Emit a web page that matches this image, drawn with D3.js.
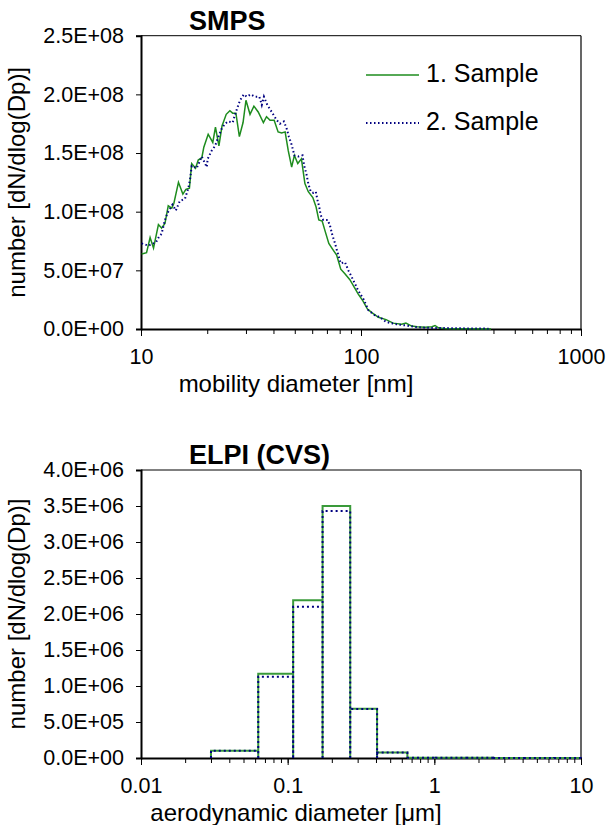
<!DOCTYPE html>
<html>
<head>
<meta charset="utf-8">
<script src="https://cdn.jsdelivr.net/npm/d3@7"></script>
<style>
  body { margin: 0; background: #fff; }
  svg { display: block; font-family: "Liberation Sans", Arial, sans-serif; }
</style>
</head>
<body>
<svg id="chart" width="606" height="825"></svg>
<script>
// SMPS, sample 1 (diameter nm / dN/dlogDp in 1e8)
var smpsD1 = [10.07, 10.6, 11.0, 11.4, 12.0, 12.4, 12.85, 13.3, 13.8, 14.1, 14.8, 15.5, 16.0, 16.6, 17.0, 17.7, 18.2, 18.9, 19.3, 20.2,
  21.2, 21.8, 22.6, 23.35, 24.4, 25.35, 26.1, 27.0, 28.0, 29.1, 30.0, 31.3, 32.6, 34.1, 36.0, 37.2, 38.6, 40.3, 42.0, 43.6,
  45.2, 46.7, 48.4, 49.8, 51.6, 53.6, 55.6, 57.6, 60.4, 62.5, 64.3, 66.6, 68.8, 71.4, 74.9, 77.5, 80.9, 84.5, 89.0, 93,
  97, 102, 107, 112, 120, 130, 140, 153, 160, 170, 180, 195, 210, 217, 225, 238, 260, 300, 390];
var smpsN1 = [0.64, 0.65, 0.78, 0.69, 0.89, 0.86, 0.90, 1.05, 1.03, 1.07, 1.25, 1.15, 1.19, 1.20, 1.41, 1.37, 1.44, 1.46, 1.55, 1.66,
  1.59, 1.72, 1.56, 1.73, 1.83, 1.86, 1.84, 1.84, 1.64, 1.76, 1.95, 1.83, 1.90, 1.85, 1.76, 1.81, 1.78, 1.78, 1.68, 1.67,
  1.68, 1.52, 1.38, 1.48, 1.41, 1.45, 1.24, 1.17, 1.12, 1.04, 0.93, 0.92, 0.83, 0.73, 0.67, 0.63, 0.51, 0.47, 0.42, 0.36,
  0.30, 0.24, 0.17, 0.14, 0.10, 0.08, 0.05, 0.04, 0.05, 0.025, 0.02, 0.015, 0.02, 0.03, 0.01, 0.005, 0.003, 0.002, 0.001];
// SMPS, sample 2
var smpsD2 = [10.07, 10.8, 11.4, 11.7, 12.1, 12.4, 12.85, 13.2, 13.9, 14.4, 15.0, 15.85, 16.4, 16.7, 17.0, 17.9, 18.9, 19.9, 20.1, 20.95,
  21.7, 22.6, 23.3, 24.1, 24.9, 26.1, 27.0, 28.2, 29.35, 30.2, 31.5, 32.95, 34.5, 35.4, 36.2, 37.5, 39.3, 41.4, 42.8, 44.6,
  45.9, 47.0, 48.4, 49.8, 51.8, 54.2, 55.2, 56.5, 57.6, 59.1, 60.7, 62.3, 63.4, 64.6, 65.6, 67.4, 70.6, 72.3, 74.1, 76.2,
  78.0, 80.9, 84.5, 87.6, 92, 97, 103, 108, 115, 122, 130, 145, 160, 180, 200, 240, 300, 380];
var smpsN2 = [0.73, 0.71, 0.73, 0.74, 0.79, 0.81, 0.93, 0.99, 1.06, 1.01, 1.09, 1.11, 1.20, 1.27, 1.39, 1.37, 1.47, 1.38, 1.45, 1.52,
  1.56, 1.65, 1.71, 1.75, 1.77, 1.76, 1.85, 1.95, 2.00, 1.98, 2.00, 1.98, 1.98, 1.91, 1.98, 1.91, 1.85, 1.78, 1.75, 1.77,
  1.71, 1.64, 1.57, 1.48, 1.47, 1.48, 1.39, 1.32, 1.24, 1.17, 1.16, 1.17, 1.10, 1.04, 0.97, 0.93, 0.93, 0.88, 0.80, 0.73,
  0.66, 0.56, 0.57, 0.50, 0.42, 0.33, 0.25, 0.16, 0.12, 0.10, 0.06, 0.04, 0.03, 0.015, 0.01, 0.008, 0.005, 0.003];
var smpsUnit = 1e8;

// ELPI stage boundaries (um) and dN/dlogDp per stage
var elpiEdges = [0.03, 0.063, 0.109, 0.173, 0.267, 0.407, 0.655, 1.021, 1.655, 2.52, 4.085, 6.56, 9.99];
var elpiN1 = [1.0e5, 1.17e6, 2.19e6, 3.50e6, 6.85e5, 7.5e4, 5e3, 3e3, 2e3, 1.5e3, 1e3, 1e3];
var elpiN2 = [1.0e5, 1.13e6, 2.10e6, 3.43e6, 6.80e5, 7.5e4, 5e3, 3e3, 2e3, 1.5e3, 1e3, 1e3];

var yTicksTop = [0, 5e7, 1e8, 1.5e8, 2e8, 2.5e8];
var yTicksBottom = [0, 5e5, 1e6, 1.5e6, 2e6, 2.5e6, 3e6, 3.5e6, 4e6];
var seriesNames = ["1. Sample", "2. Sample"];

var green = "#1e8c1e", navy = "#000080";
var fs = 21.5;   // tick labels
var fsTitle = 24; // axis titles

function sci(d) {
  if (d === 0) return "0.0E+00";
  var e = Math.floor(Math.log10(d) + 1e-9);
  var m = d / Math.pow(10, e);
  return m.toFixed(1) + "E+" + (e < 10 ? "0" : "") + e;
}

var svg = d3.select("#chart");

function minorTicks(lo, hi) {
  var out = [];
  for (var p = lo; p < hi; p *= 10)
    for (var k = 1; k < 10; k++) out.push(p * k);
  out.push(hi);
  return out;
}

function panel(top, bottom, xDomain, yMax, yTicks, title, xLabel, xFmt) {
  var left = 141, right = 581;
  var x = d3.scaleLog().domain(xDomain).range([left, right]);
  var y = d3.scaleLinear().domain([0, yMax]).range([bottom, top]);

  // plot box (thin top/right)
  svg.append("line").attr("x1", left).attr("x2", right).attr("y1", top).attr("y2", top)
    .attr("stroke", "#000").attr("stroke-width", 1);
  svg.append("line").attr("x1", right).attr("x2", right).attr("y1", top).attr("y2", bottom)
    .attr("stroke", "#000").attr("stroke-width", 1.2);

  // y axis
  var ya = svg.append("g").attr("transform", "translate(" + left + ",0)")
    .call(d3.axisLeft(y).tickValues(yTicks).tickFormat(sci).tickSize(5).tickPadding(12));
  ya.select(".domain").attr("stroke-width", 2);
  ya.selectAll("text").attr("font-size", fs).attr("font-family", null).attr("fill", "#000");

  // x axis: minor ticks, then labelled majors
  var xa = svg.append("g").attr("transform", "translate(0," + bottom + ")")
    .call(d3.axisBottom(x).tickValues(minorTicks(xDomain[0], xDomain[1])).tickFormat("").tickSize(5).tickSizeOuter(0));
  xa.select(".domain").attr("stroke-width", 2);
  var majors = d3.range(0, 4).map(function(i) { return xDomain[0] * Math.pow(10, i); })
    .filter(function(v) { return v <= xDomain[1] * 1.0001; });
  var xm = svg.append("g").attr("transform", "translate(0," + bottom + ")")
    .call(d3.axisBottom(x).tickValues(majors).tickFormat(xFmt).tickSize(7).tickPadding(13));
  xm.select(".domain").remove();
  xm.selectAll("text").attr("font-size", fs).attr("font-family", null).attr("fill", "#000");

  svg.append("text").attr("x", 189).attr("y", top - 6)
    .attr("font-size", 27).attr("font-weight", "bold").text(title);

  svg.append("text").attr("x", 296).attr("y", bottom + 63)
    .attr("text-anchor", "middle").attr("font-size", fsTitle).html(xLabel);

  svg.append("text")
    .attr("transform", "translate(19," + (top + bottom) / 2 + ") rotate(-90)")
    .attr("text-anchor", "middle").attr("dominant-baseline", "middle")
    .attr("font-size", fsTitle).text("number [dN/dlog(Dp)]");

  return {x: x, y: y};
}

// ---- SMPS panel ----
var p1 = panel(35.7, 329, [10, 1000], 2.5e8, yTicksTop, "SMPS", "mobility diameter [nm]", d3.format("d"));

var line1 = d3.line().x(function(d) { return p1.x(d[0]); }).y(function(d) { return p1.y(d[1] * smpsUnit); });
svg.append("path").datum(d3.zip(smpsD1, smpsN1)).attr("d", line1)
  .attr("fill", "none").attr("stroke", green).attr("stroke-width", 1.5);
svg.append("path").datum(d3.zip(smpsD2, smpsN2)).attr("d", line1)
  .attr("fill", "none").attr("stroke", navy).attr("stroke-width", 2).attr("stroke-dasharray", "1.5,2.5");

// legend
var leg = svg.append("g");
seriesNames.forEach(function(name, i) {
  var ly = 75 + i * 48;
  leg.append("line").attr("x1", 366).attr("x2", 419).attr("y1", ly).attr("y2", ly)
    .attr("stroke", i ? navy : green).attr("stroke-width", i ? 2 : 1.5)
    .attr("stroke-dasharray", i ? "1.5,2.5" : null);
  leg.append("text").attr("x", 426).attr("y", ly).attr("dominant-baseline", "middle")
    .attr("font-size", 25).text(name);
});

// ---- ELPI panel ----
var p2 = panel(470, 758, [0.01, 10], 4e6, yTicksBottom, "ELPI (CVS)", "aerodynamic diameter [&#956;m]",
  function(d) { return d >= 1 ? d3.format("d")(d) : String(d); });

function stepPath(vals) {
  var p = d3.path();
  vals.forEach(function(v, i) {
    var x0 = p2.x(elpiEdges[i]), x1 = p2.x(elpiEdges[i + 1]);
    p.moveTo(x0, p2.y(0));
    p.lineTo(x0, p2.y(v));
    p.lineTo(x1, p2.y(v));
    p.lineTo(x1, p2.y(0));
  });
  return p.toString();
}
svg.append("path").attr("d", stepPath(elpiN1))
  .attr("fill", "none").attr("stroke", "#3a9a3a").attr("stroke-width", 2);
svg.append("path").attr("d", stepPath(elpiN2))
  .attr("fill", "none").attr("stroke", navy).attr("stroke-width", 2).attr("stroke-dasharray", "2,3");
</script>
</body>
</html>
